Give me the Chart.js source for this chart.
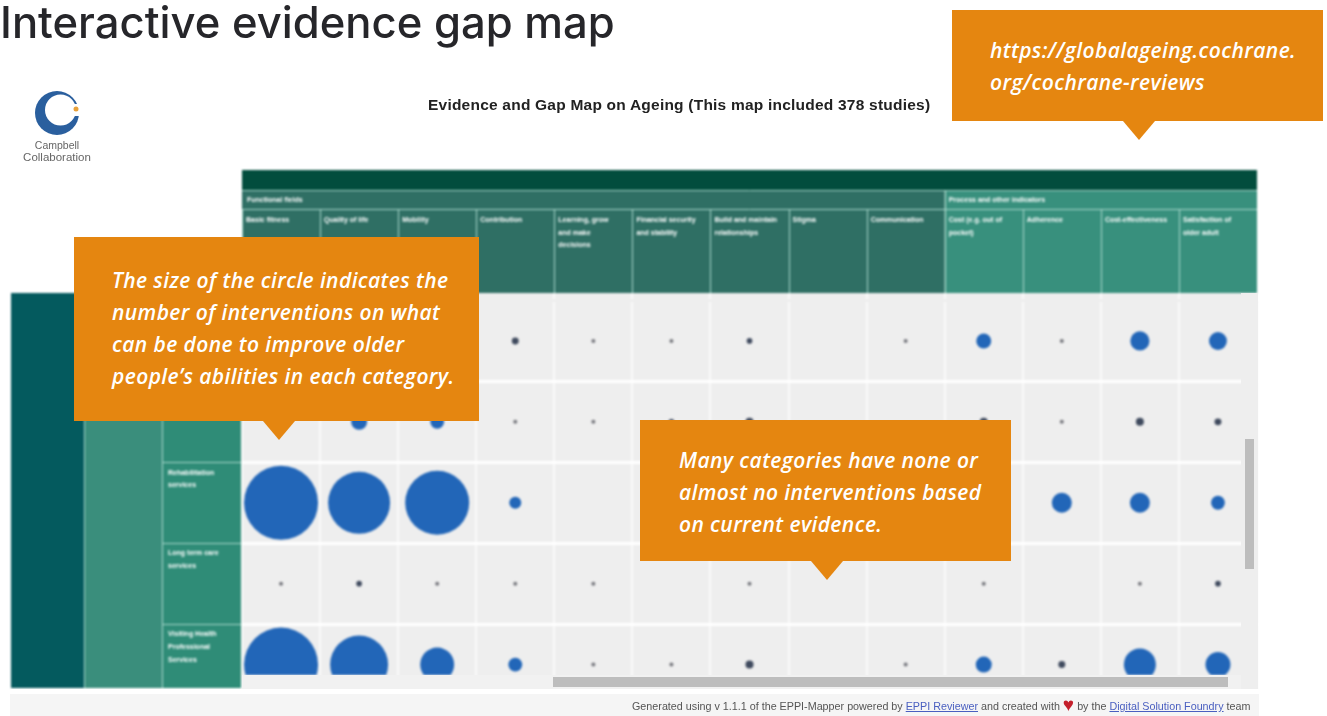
<!DOCTYPE html>
<html>
<head>
<meta charset="utf-8">
<title>Interactive evidence gap map</title>
<script src="https://cdn.jsdelivr.net/npm/chart.js@4"></script>
<style>
  html, body { margin: 0; padding: 0; background: #fff; width: 1327px; height: 716px; overflow: hidden; }
  #mapa { position: absolute; left: 0; top: 0; filter: blur(0.8px); }
  h1 { position: absolute; left: 0; top: -1px; margin: 0; font: 500 43.6px/48px Inter, sans-serif; color: #26262a; white-space: nowrap; }
  .titulo { position: absolute; left: 428px; top: 96px; font: bold 15.5px/18px "Liberation Sans", sans-serif; letter-spacing: 0.22px; color: #222; white-space: nowrap; filter: blur(0.4px); }
  .caixa { position: absolute; background: #e58610; color: #fff; font: italic 600 21px/32px "Open Sans", sans-serif; letter-spacing: 0.4px; box-sizing: border-box; white-space: nowrap; }
  .caixa::after { content: ""; position: absolute; top: 100%; border-style: solid; border-width: 19px 16px 0 16px; border-color: #e58610 transparent transparent transparent; }
  #c1 { left: 74px; top: 237px; width: 405px; height: 184px; padding: 27px 0 0 38px; }
  #c1::after { left: 189px; }
  #c2 { left: 640px; top: 420px; width: 371px; height: 141px; padding: 24px 0 0 39px; }
  #c2::after { left: 171px; }
  #c3 { left: 952px; top: 10px; width: 371px; height: 111px; padding: 24px 0 0 38px; }
  #c3::after { left: 171px; }
  #logo { position: absolute; left: 20px; top: 86px; width: 76px; height: 80px; filter: blur(0.5px); }
  .rodape { position: absolute; left: 10px; top: 694px; width: 1249px; height: 22px; background: #f5f5f5; }
  .rodape span.t { position: absolute; left: 622px; top: 6px; font: 10.75px/12px "Liberation Sans", sans-serif; color: #555; white-space: nowrap; filter: blur(0.5px); }
  .rodape a { color: #4a5fc0; text-decoration: underline; }
  .rodape b { color: #c4202c; font-size: 19px; line-height: 10px; vertical-align: -1px; }
  .canto { position: absolute; left: 1241px; top: 293px; width: 17px; height: 396px; background: #eee; }
  .faixa { position: absolute; left: 242px; top: 675px; width: 1016px; height: 14px; background: #f1f1f1; }
  .barraV { position: absolute; left: 1245px; top: 439px; width: 9px; height: 130px; background: #bdbdbd; }
  .barraH { position: absolute; left: 553px; top: 677px; width: 675px; height: 10px; background: #bdbdbd; }
  .branco { position: absolute; left: 10px; top: 689px; width: 1249px; height: 5px; background: #fff; }
</style>
</head>
<body>
<!-- mais alto que a janela: o bubble reserva o raio maximo embaixo da area do grafico -->
<canvas id="mapa" width="1327" height="742"></canvas>
<div class="faixa"></div>
<div class="canto"></div>
<div class="barraH"></div>
<div class="barraV"></div>
<div class="branco"></div>
<div class="rodape"><span class="t">Generated using v 1.1.1 of the EPPI-Mapper powered by <a>EPPI Reviewer</a> and created with <b>&#9829;</b> by the <a>Digital Solution Foundry</a> team</span></div>

<h1>Interactive evidence gap map</h1>
<div class="titulo">Evidence and Gap Map on Ageing (This map included 378 studies)</div>

<svg id="logo" viewBox="0 0 76 80">
  <circle cx="37" cy="27" r="22" fill="#2a5f9e"/>
  <circle cx="40.5" cy="24" r="15.5" fill="#fff"/>
  <rect x="50" y="18" width="12" height="12" fill="#fff"/>
  <circle cx="56" cy="23" r="2.5" fill="#e8a13a"/>
  <text x="37" y="63" text-anchor="middle" font-family="Liberation Sans" font-size="10.5" fill="#666">Campbell</text>
  <text x="37" y="75" text-anchor="middle" font-family="Liberation Sans" font-size="11.5" fill="#666">Collaboration</text>
</svg>

<div class="caixa" id="c1">The size of the circle indicates the<br>number of interventions on what<br>can be done to improve older<br>people&rsquo;s abilities in each category.</div>
<div class="caixa" id="c2">Many categories have none or<br>almost no interventions based<br>on current evidence.</div>
<div class="caixa" id="c3">https://globalageing.cochrane.<br>org/cochrane-reviews</div>

<script>
// colunas e linhas do mapa
const colunas = [
  ["Basic fitness"], ["Quality of life"], ["Mobility"], ["Contribution"],
  ["Learning, grow", "and make", "decisions"], ["Financial security", "and stability"],
  ["Build and maintain", "relationships"], ["Stigma"], ["Communication"],
  ["Cost (e.g. out of", "pocket)"], ["Adherence"], ["Cost-effectiveness"], ["Satisfaction of", "older adult"]
];
// as duas primeiras linhas ficam atras da caixa laranja
const linhas = [
  ["", "", " "], ["", " ", ""],
  ["Rehabilitation", "services", ""],
  ["Long term care", "services", ""],
  ["Visiting Health", "Professional", "Services"]
];
const grupoA = "Functional fields";
const grupoB = "Process and other indicators";

// quantidade estimada por celula (null = vazia ou escondida)
const linha1 = [null, null, null, 3, 1, 1, 2, null, 1, 14, 1, 23, 20];
const linha2 = [null, 16, 12, 1, 1, 2, 4, null, null, 4, 1, 4, 3];
const linha3 = [342, 240, 256, 9, null, null, null, null, null, null, 25, 25, 12];
const linha4 = [1, 2, 1, 1, 1, null, 1, null, null, 1, null, 1, 2];
const linha5 = [342, 210, 72, 12, 1, 1, 4, null, 1, 16, 3, 64, 39];
const series = [linha1, linha2, linha3, linha4, linha5];

const nomesColunas = colunas.map(c => c.join(" "));
const nomesLinhas = linhas.map((l, i) => "r" + i);

function corBolha(ctx) {
  const v = ctx.raw ? ctx.raw.v : 0;
  if (v <= 1) return "#77787e";
  if (v <= 4) return "#3f4a5e";
  return "#2266b8";
}

const datasets = series.map((valores, i) => ({
  label: nomesLinhas[i],
  clip: { left: 0, top: 0, right: 0, bottom: -30 },
  backgroundColor: corBolha,
  borderWidth: 0,
  data: valores
    .map((v, j) => v === null ? null : { x: nomesColunas[j], y: nomesLinhas[i], r: 2 * Math.sqrt(v), v: v })
    .filter(p => p)
}));

// pinta cabecalho e faixas laterais usando as escalas
const fundoMapa = {
  id: "fundoMapa",
  beforeDraw(chart) {
    const c = chart.ctx, x = chart.scales.x, y = chart.scales.y;
    const passo = (x.right - x.left) / colunas.length;
    const esq = x.left, dir = x.right;
    const meio = esq + passo * 9;

    c.save();
    c.fillStyle = "#eeeeee";
    c.fillRect(esq, 293, dir - esq, 395);

    c.fillStyle = "#024d3d";
    c.fillRect(esq, 170, dir - esq, 20);
    c.fillStyle = "#2f6f64";
    c.fillRect(esq, 190, meio - esq, 103);
    c.fillStyle = "#38907d";
    c.fillRect(meio, 190, dir - meio, 103);

    c.fillStyle = "#045a5e";
    c.fillRect(11, 293, 73, 395);
    c.fillStyle = "#3a8e7c";
    c.fillRect(84, 293, 78, 395);
    c.fillStyle = "#2f8c77";
    c.fillRect(162, 293, esq - 162, 395);

    c.strokeStyle = "#a9d8cc";
    c.lineWidth = 1;
    c.beginPath();
    c.moveTo(esq, 190.5); c.lineTo(dir, 190.5);
    c.moveTo(esq, 209.5); c.lineTo(dir, 209.5);
    for (let i = 0; i < colunas.length; i++) {
      const px = Math.round(esq + passo * i) + 0.5;
      c.moveTo(px, i === 9 ? 190 : 210); c.lineTo(px, 293);
    }
    c.moveTo(84.5, 293); c.lineTo(84.5, 688);
    c.moveTo(162.5, 293); c.lineTo(162.5, 688);
    for (let i = 2; i < linhas.length; i++) {
      const py = Math.round(y.getPixelForTick(i) - 40.5) + 0.5;
      c.moveTo(162, py); c.lineTo(esq, py);
    }
    c.stroke();

    c.fillStyle = "#fff";
    c.font = "bold 7px 'Liberation Sans'";
    c.textBaseline = "middle";
    c.fillText(grupoA, esq + 5, 200);
    c.fillText(grupoB, meio + 4, 200);

    c.fillStyle = "#fafafa";
    for (let i = 1; i < colunas.length; i++) {
      c.fillRect(Math.round(esq + passo * i) - 1, 293, 2, 8);
    }
    c.restore();
  }
};

new Chart(document.getElementById("mapa"), {
  type: "bubble",
  data: { datasets: datasets },
  plugins: [fundoMapa],
  options: {
    responsive: false,
    animation: false,
    events: [],
    layout: { padding: { left: 168, top: 170, right: 70, bottom: 0 } },
    plugins: { legend: { display: false }, tooltip: { enabled: false } },
    scales: {
      x: {
        type: "category",
        position: "top",
        labels: nomesColunas,
        offset: true,
        afterFit: s => { s.height = 130.5; s.paddingLeft = 0; s.paddingRight = 0; },
        border: { display: false },
        grid: { offset: true, color: "#fafafa", lineWidth: 2, drawTicks: false },
        ticks: {
          autoSkip: false, maxRotation: 0, minRotation: 0,
          align: "start", crossAlign: "far", labelOffset: -35, padding: 49,
          color: "#ffffff",
          font: { family: "Liberation Sans", size: 7, weight: "bold", lineHeight: 1.8 },
          callback: (v, i) => colunas[i]
        }
      },
      y: {
        type: "category",
        position: "left",
        labels: nomesLinhas,
        offset: true,
        afterFit: s => { s.width = 74; s.paddingTop = 0; s.paddingBottom = 0; },
        border: { display: false },
        grid: {
          offset: true, lineWidth: 3, drawTicks: false,
          color: ctx => ctx.index === 0 ? "#eeeeee" : "#ffffff"
        },
        ticks: {
          autoSkip: false,
          crossAlign: "far", labelOffset: -17.5,
          color: "#ffffff",
          font: { family: "Liberation Sans", size: 7, weight: "bold", lineHeight: 1.8 },
          callback: (v, i) => linhas[i]
        }
      }
    }
  }
});
</script>
</body>
</html>
